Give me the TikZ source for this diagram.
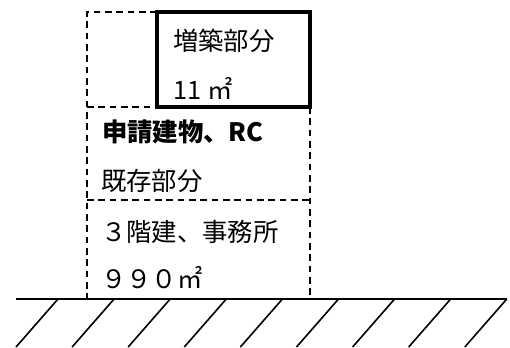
\documentclass[tikz,border=0pt]{standalone}
\usepackage{fontspec}
\newfontfamily\cjk{Noto Sans CJK JP}
\usepackage{tikz}

\tikzset{
  wall/.style={line width=1.4pt, dash pattern=on 5pt off 3.5pt},
  annex/.style={line width=2.6pt},
  ground/.style={line width=1.2pt},
  txt/.style={anchor=west, inner sep=0pt, font=\cjk\fontsize{19}{22}\selectfont},
}

\begin{document}
\begin{tikzpicture}[x=0.75pt, y=-0.75pt]
        \useasboundingbox (0,0) rectangle (510,347);
        \coordinate (tl) at (87,12);
        \coordinate (bl) at (87,299);
        \coordinate (br) at (310,299);
        \coordinate (ann) at (157,12);
        \coordinate (gl) at (16,299);
        \coordinate (gr) at (507,299);
        % existing building, dashed
        \draw[wall] (ann) -- (tl) -- (bl);
        \draw[wall] (87,107) -- (157,107);
        \draw[wall] (310,107) -- (br);
        \draw[wall] (87,200) -- (310,200);
        % extension
        \draw[annex] (ann) rectangle (310,107);
        \node[txt] (add) at (173,41) {増築部分};
        \node[txt] (addarea) at (173,88) {11 ㎡};
        \node[txt] (bldg) at (102,132) {\bfseries 申請建物、RC};
        \node[txt] (exist) at (101,181) {既存部分};
        \node[txt] (floors) at (101,232) {３階建、事務所};
        \node[txt] (area) at (101,278) {９９０㎡};
        % ground
        \draw[ground] (gl) -- (gr);
        \foreach \i in {0,...,8}
            \draw[ground] (58+56.1*\i,299) -- ++(-42,48);
    \end{tikzpicture}
\end{document}
